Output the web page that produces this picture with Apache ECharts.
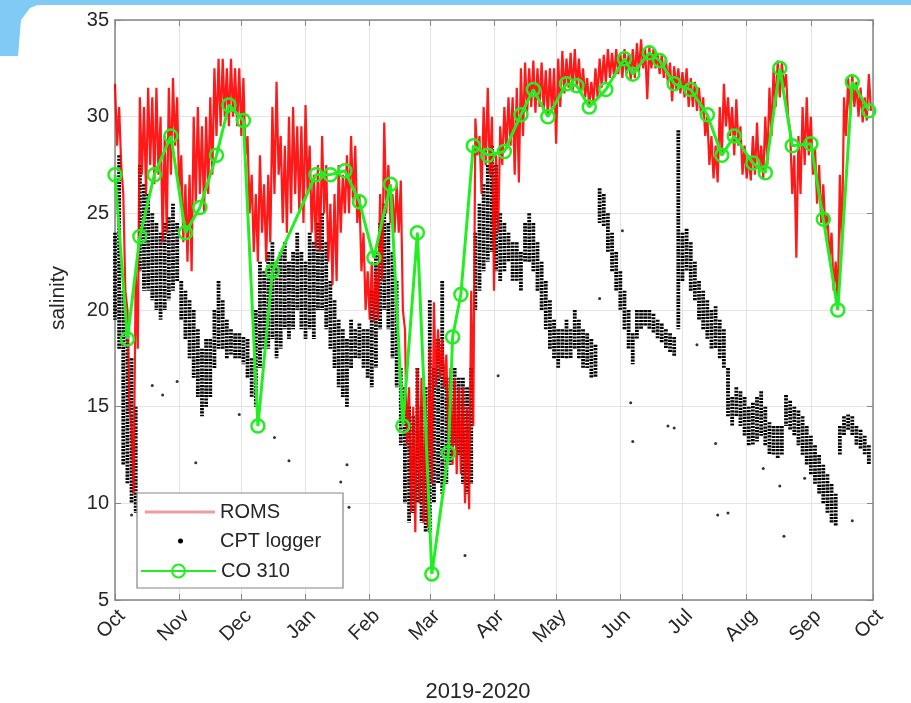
<!DOCTYPE html>
<html>
<head>
<meta charset="utf-8">
<title>Salinity 2019-2020</title>
<script src="https://cdn.jsdelivr.net/npm/echarts@6/dist/echarts.min.js"></script>
<style>
  html, body { margin: 0; padding: 0; background: #fff; }
  #chart { width: 911px; height: 703px; }
</style>
</head>
<body>
<div id="chart"></div>
<script>
// salinity at the CPT site, Oct 2019 - Oct 2020: ROMS model, CPT logger, CO 310 casts

const axisMin = '2019-10-01';
const axisMax = '2020-10-01';
const monthLabels = ['Jan', 'Feb', 'Mar', 'Apr', 'May', 'Jun', 'Jul', 'Aug', 'Sep', 'Oct', 'Nov', 'Dec'];
const yMin = 5;
const yMax = 35;
const yStep = 5;

// ROMS: tidal highs (day 2k) and lows (day 2k+1), counted from 1 Oct 2019
const romsHigh = [
  31.7, 30.5, 26, 20, 14, 22, 31, 30.5, 31.5, 31,
  31.5, 30, 29, 31.5, 32, 31, 28, 26.5, 27, 30,
  30.5, 29.5, 30, 31, 32.5, 33, 33, 32.5, 33, 32.5,
  32.5, 32, 29, 27, 26, 28, 26.5, 27, 30.5, 31.8,
  29, 28.5, 30, 30.5, 29.5, 29.5, 30.6, 28.5, 27, 27.5,
  29, 27.5, 25.5, 26, 27.5, 27, 28, 29, 28.5, 26,
  24, 22, 22.5, 22, 26, 29.7, 27.5, 26, 26.5, 26.7,
  19, 16, 15, 17, 16.5, 15.5, 18, 20.4, 19, 18.5,
  17.7, 17, 16.5, 16, 16, 15, 21, 29.9, 29, 30.5,
  31.5, 30, 28, 29.5, 30.5, 31, 31, 31.5, 32.5, 32.8,
  32.5, 32.9, 32.5, 32.8, 32.4, 32.5, 32.5, 33, 33.4, 33,
  33.3, 33.5, 33, 32.5, 32, 31.8, 32.5, 33, 33.2, 33.5,
  33.3, 33.5, 33.3, 33.5, 33.2, 33.5, 33.8, 34, 33.5, 33.6,
  33.5, 33.3, 33.2, 33, 32.8, 32.6, 32.5, 32.3, 32.5, 32,
  31.8, 31.5, 31, 30, 29, 28.5, 30.5, 31.7, 31, 30.5,
  30.9, 29.5, 28.5, 28, 29, 29.7, 28.5, 30, 31.5, 32.5,
  32.9, 32.8, 32.2, 29.3, 28, 29, 30.5, 31, 30, 28.4,
  27.5, 26.5, 25, 24, 22.5, 27, 31, 32, 32.2, 31.8,
  31.5, 31, 32.2
];
const romsLow = [
  28.5, 27.5, 21, 15, 10.5, 18, 27, 26, 27.5, 26.5,
  27, 23.5, 24, 27, 28.5, 26, 23.5, 22.5, 22, 25.5,
  26, 25, 26, 27, 29, 29.5, 30, 29.5, 30, 29.5,
  29, 28, 25, 23, 22.5, 24, 22.5, 23.5, 26, 27,
  24.5, 24, 25, 26, 25, 24.5, 26, 24, 23.2, 23,
  25, 22.5, 21.3, 21.5, 24, 25, 25, 25.5, 24.5, 22,
  20, 19.5, 19.4, 19.5, 21.5, 25, 24.5, 24, 24, 20,
  13, 9.5, 8.5, 10, 9, 8.8, 11, 16, 16.5, 16,
  13, 12, 11.5, 11.5, 10, 9.7, 14, 28, 26, 27.5,
  27, 21, 24, 27.5, 28.3, 28.5, 27, 26.6, 29, 30.2,
  30.5, 30.2, 30.5, 30.3, 30, 30.2, 28.6, 30.5, 31.2, 31.5,
  31.3, 31.5, 31.2, 31, 30.5, 30.8, 31, 31.5, 31.8, 32,
  32, 32.2, 32, 32.2, 31.9, 32, 32.3, 32.5, 30.9, 32.5,
  32.5, 32.2, 32, 31.7, 30.8, 31.4, 31.2, 31, 30.5, 30.5,
  30.3, 30, 29, 27.5, 26.8, 26.6, 28, 29.5, 29, 28,
  28.5, 27, 26.8, 26.7, 27, 27, 26.8, 27.5, 29, 30.5,
  31, 31.5, 30, 26, 22.7, 26, 27.5, 28, 27, 25.5,
  24.5, 24.1, 22.6, 21, 20.3, 23, 29, 30, 30.5, 30,
  29.7, 29.8, 30.3
];

// CPT logger: spread of the logged values on day 2k (low / high)
const cptLow = [
  19.5, 18, 12, 11, 10, 9.5, 22, 21, 21, 20.5,
  20, 19.5, 20, 20.5, 21, 21.5, 19.5, 18.5, 17.5, 16.5,
  15.5, 14.5, 15, 15.5, 17, 18, 18, 17.5, 17.7, 17.5,
  17.5, 17.2, 16.5, 15.5, 15, 17, 18, 18, 18.5, 17.5,
  18, 19, 18.5, 19, 20, 19, 18.5, 19, 18.5, 20,
  20, 19, 18, 17, 16, 15.5, 15, 17, 17.5, 17.5,
  17, 16.5, 16, 17, 19, 20, 19, 17.5, 16, 13,
  10, 9, 9.5, 10, 9, 8.5, 8.5, 10, 11, 10.5,
  11, 12, 13, 12.5, 11, 10.5, 11, 20, 21, 22,
  22.5, 23, 22, 21.5, 22, 22.5, 21.5, 21.5, 21, 22.5,
  22.5, 22, 21, 20, 19, 18, 17.5, 17, 17.5, 17.5,
  17.5, 18, 17.5, 17, 17, 16.5, 16.5, 24.5, 24.3, 23,
  22, 21, 20, 19, 18, 17.2, 18.5, 19, 19.2, 19,
  18.8, 18.5, 18.3, 18, 17.8, 17.6, 19, 21.5, 22, 21,
  20.5, 19.5, 19, 18.5, 18, 18, 17.5, 17, 14.5, 14,
  14.5, 14, 13.5, 13, 13, 13.2, 13.5, 13, 12.5, 12.5,
  12.3, 12.5, 14, 13.8, 13.5, 13, 12.5, 12, 11.5, 11,
  10.5, 10, 9.5, 9, 8.8, 12.5, 13.5, 13.8, 13.5, 13,
  12.8, 12.5, 12
];
const cptHigh = [
  24, 28, 21, 19, 17.5, 15, 27.5, 26.5, 26, 25,
  24.5, 24, 24.5, 24.8, 25.5, 24.5, 21.5, 21, 20.5, 20,
  19, 18, 18.5, 18.5, 20, 21.5, 20.5, 19.5, 19, 18.8,
  18.8, 18.6, 18.5, 17.5, 20, 22.5, 22, 23, 23.5, 22.5,
  23, 23.5, 22.5, 23, 24, 23, 22.5, 24, 23.5, 24.5,
  25, 23.5, 21.5, 20.5, 19.5, 19, 18.5, 19.5, 19, 19.3,
  19, 19, 21, 23, 24.5, 25.5, 24.5, 23, 21.5, 17,
  16, 15, 14.5, 17, 15, 16, 20.5, 17, 18.5, 21.5,
  16.5, 16.5, 17, 16.5, 16.5, 16, 17, 24, 25.5, 26.5,
  27.5, 28.5, 27.5, 25, 24.5, 24, 23.5, 23.5, 23, 24.5,
  25, 24.5, 23.5, 22.5, 21.5, 20.5, 19.5, 19, 19, 19.5,
  19, 20, 19.5, 19, 18.8, 18.5, 18.2, 26.3, 26, 25,
  24, 23, 22, 21, 20, 18.8, 20, 20, 20, 20,
  19.8, 19.5, 19.3, 19, 18.8, 18.6, 29.3, 24, 24.2, 23.5,
  22.5, 21.5, 21, 20.5, 20, 20.2, 19.5, 19, 17, 15.5,
  16, 15.8, 15.5, 15, 15.2, 15.5, 15.8, 15, 14.2, 14,
  14, 14, 15.6, 15.3, 15, 14.8, 14.5, 14, 13.5, 13,
  12.5, 12, 11.5, 11, 10.5, 14, 14.5, 14.6, 14.5, 14,
  13.8, 13.5, 13
];
// stray logger readings away from the main cloud
const cptStray = [
  ['2019-10-09', 9.4], ['2019-10-19', 16.1], ['2019-10-24', 15.6], ['2019-10-31', 16.3],
  ['2019-11-09', 12.1], ['2019-11-30', 14.6], ['2019-12-17', 13.4], ['2019-12-24', 12.2],
  ['2020-01-18', 11.1], ['2020-01-21', 12.0], ['2020-01-22', 9.8], ['2020-03-18', 7.3],
  ['2020-04-03', 16.6], ['2020-05-22', 20.6], ['2020-06-02', 24.1], ['2020-06-06', 15.2],
  ['2020-06-07', 13.2], ['2020-06-24', 14.0], ['2020-06-27', 13.9], ['2020-07-08', 18.2],
  ['2020-07-17', 13.1], ['2020-07-18', 9.4], ['2020-07-23', 9.5], ['2020-08-09', 11.8],
  ['2020-08-17', 10.9], ['2020-08-19', 8.3], ['2020-08-29', 11.3], ['2020-09-21', 9.1]
];

// CO 310 casts
const coDates = [
  '2019-10-01', '2019-10-07', '2019-10-13', '2019-10-20', '2019-10-28', '2019-11-04',
  '2019-11-11', '2019-11-19', '2019-11-25', '2019-12-02', '2019-12-09', '2019-12-16',
  '2020-01-06', '2020-01-13', '2020-01-20', '2020-01-27', '2020-02-03', '2020-02-11',
  '2020-02-17', '2020-02-24', '2020-03-02', '2020-03-10', '2020-03-12', '2020-03-16',
  '2020-03-22', '2020-03-29', '2020-04-06', '2020-04-14', '2020-04-20', '2020-04-27',
  '2020-05-06', '2020-05-11', '2020-05-17', '2020-05-25', '2020-06-03', '2020-06-07',
  '2020-06-15', '2020-06-20', '2020-06-27', '2020-07-05', '2020-07-13', '2020-07-20',
  '2020-07-26', '2020-08-04', '2020-08-10', '2020-08-17', '2020-08-23', '2020-09-01',
  '2020-09-07', '2020-09-14', '2020-09-21', '2020-09-29'
];
const coValues = [
  27.0, 18.5, 23.8, 27.0, 29.0, 24.0,
  25.3, 28.0, 30.6, 29.8, 14.0, 22.0,
  27.0, 27.0, 27.2, 25.6, 22.7, 26.5,
  14.0, 24.0, 6.35, 12.6, 18.6, 20.8,
  28.5, 28.0, 28.2, 30.1, 31.4, 30.0,
  31.7, 31.6, 30.5, 31.4, 33.0, 32.2,
  33.3, 32.9, 31.7, 31.4, 30.1, 28.0,
  29.0, 27.6, 27.1, 32.5, 28.5, 28.6,
  24.7, 20.0, 31.8, 30.3
];

// ---- build series data ----
function dayTime(day) {
    return new Date(2019, 9, 1 + day).getTime();
}

const romsData = [];
romsHigh.forEach((hi, k) => {
    romsData.push([dayTime(2 * k), hi]);
    romsData.push([dayTime(2 * k + 1), romsLow[k]]);
});

const cptData = cptLow.map((lo, k) => [dayTime(2 * k), lo, cptHigh[k]]);
const coData = coDates.map((d, i) => [d, coValues[i]]);

const textColor = '#262626';
const axisColor = '#858585';
const fontFamily = 'Liberation Sans, Arial, sans-serif';

const chart = echarts.init(document.getElementById('chart'));

const sideAxis = {
    axisLine: { show: true, lineStyle: { color: axisColor, width: 1.5 } },
    axisTick: { show: true, inside: true, length: 6, lineStyle: { color: axisColor } },
    axisLabel: { show: false },
    splitLine: { show: false }
};

const legendText = { fontSize: 20, color: textColor, fontFamily: fontFamily };

const option = {
    animation: false,
    backgroundColor: '#fff',
    grid: { left: 115, right: 38, top: 20, bottom: 103, outerBoundsMode: 'none' },
    xAxis: [{
        type: 'time',
        min: axisMin,
        max: axisMax,
        splitNumber: 12,
        name: '2019-2020',
        nameLocation: 'middle',
        nameGap: 81,
        nameTextStyle: {
            fontSize: 22, color: textColor, fontFamily: fontFamily,
            padding: [0, 32, 0, 0]
        },
        axisLine: { show: true, lineStyle: { color: axisColor, width: 1.5 } },
        axisTick: { show: true, inside: true, length: 6, lineStyle: { color: axisColor } },
        axisLabel: {
            rotate: 45,
            margin: 6,
            align: 'right',
            verticalAlign: 'top',
            fontSize: 20,
            color: textColor,
            fontFamily: fontFamily,
            showMinLabel: true,
            showMaxLabel: true,
            formatter: (value) => monthLabels[new Date(value).getMonth()]
        },
        splitLine: { show: true, lineStyle: { color: '#e4e4e4', width: 1 } }
    }, Object.assign({
        type: 'time',
        position: 'top',
        min: axisMin,
        max: axisMax,
        splitNumber: 12
    }, sideAxis)],
    yAxis: [{
        type: 'value',
        min: yMin,
        max: yMax,
        interval: yStep,
        name: 'salinity',
        nameLocation: 'middle',
        nameGap: 46,
        nameTextStyle: {
            fontSize: 21, color: textColor, fontFamily: fontFamily,
            padding: [0, 0, 0, 24]
        },
        axisLine: { show: true, lineStyle: { color: axisColor, width: 1.5 } },
        axisTick: { show: true, inside: true, length: 6, lineStyle: { color: axisColor } },
        axisLabel: { fontSize: 20, color: textColor, fontFamily: fontFamily, margin: 6 },
        splitLine: { show: true, lineStyle: { color: '#e4e4e4', width: 1 } }
    }, Object.assign({
        type: 'value',
        position: 'right',
        min: yMin,
        max: yMax,
        interval: yStep
    }, sideAxis)],
    legend: [{
        data: [{ name: 'ROMS', icon: 'rect' }],
        left: 145,
        top: 502,
        padding: 0,
        itemWidth: 70,
        itemHeight: 3,
        itemStyle: { color: '#ee9c9c' },
        textStyle: legendText
    }, {
        data: [{ name: 'CPT logger', icon: 'circle' }],
        left: 178,
        top: 531,
        padding: 0,
        itemWidth: 5,
        itemHeight: 5,
        itemStyle: { color: '#000' },
        formatter: (name) => '{pad|}' + name,
        textStyle: Object.assign({ rich: { pad: { width: 32 } } }, legendText)
    }, {
        data: ['CO 310'],
        left: 140,
        top: 561,
        padding: 0,
        itemWidth: 75,
        itemHeight: 16,
        textStyle: legendText
    }],
    graphic: [
        { type: 'rect', z: 3, shape: { x: 137, y: 493, width: 206, height: 95 },
          style: { fill: '#fff', stroke: axisColor, lineWidth: 1.2 } },
        { type: 'rect', z: 10, shape: { x: 0, y: 0, width: 911, height: 5 },
          style: { fill: '#80cbf6' } },
        { type: 'polygon', z: 10, shape: { points: [[0, 0], [50, 0], [30, 8], [21, 20], [18, 56], [0, 56]] },
          style: { fill: '#80cbf6' } }
    ],
    series: [{
        name: 'CPT logger',
        type: 'custom',
        z: 2,
        data: cptData,
        encode: { x: 0, y: [1, 2] },
        renderItem: (params, api) => {
            const top = api.coord([api.value(0), api.value(2)]);
            const bottom = api.coord([api.value(0), api.value(1)]);
            return {
                type: 'line',
                shape: { x1: top[0], y1: top[1], x2: bottom[0], y2: bottom[1] },
                style: { stroke: '#000', lineWidth: 3.8, lineDash: [2.2, 1.1] }
            };
        }
    }, {
        name: 'CPT logger',
        type: 'scatter',
        z: 2,
        symbol: 'circle',
        symbolSize: 3,
        itemStyle: { color: '#000' },
        data: cptStray
    }, {
        name: 'ROMS',
        type: 'line',
        z: 3,
        showSymbol: false,
        symbol: 'none',
        data: romsData,
        lineStyle: { color: '#ff0000', width: 2.2, opacity: 0.9 },
        itemStyle: { color: '#ff0000' }
    }, {
        name: 'CO 310',
        type: 'line',
        z: 4,
        data: coData,
        symbol: 'circle',
        symbolSize: 13,
        lineStyle: { color: '#22ee22', width: 3 },
        itemStyle: { color: 'rgba(255,255,255,0)', borderColor: '#22ee22', borderWidth: 2.5 }
    }]
};

chart.setOption(option);
</script>
</body>
</html>
